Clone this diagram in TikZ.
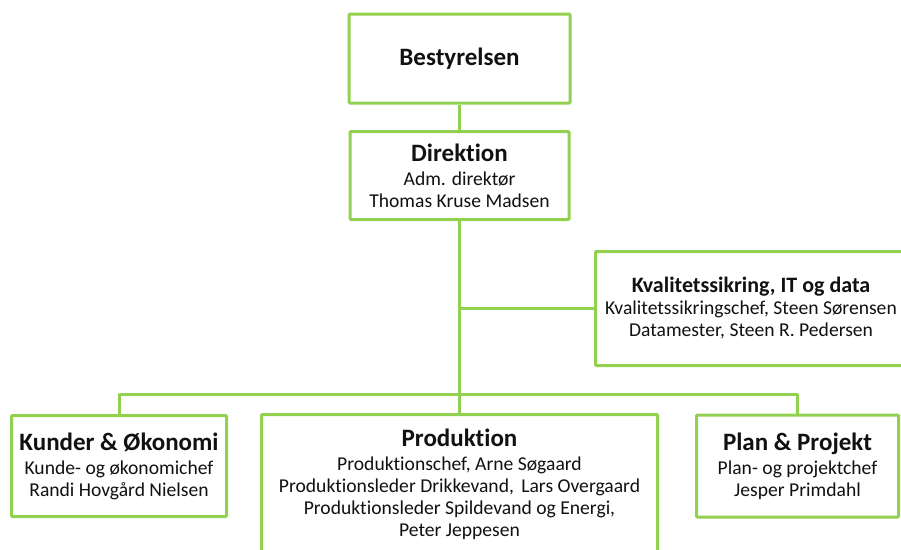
\documentclass[tikz,border=0pt]{standalone}
\usepackage{fontspec}
\setmainfont{Carlito}[Ligatures={NoCommon,NoContextual}]
\definecolor{orgline}{HTML}{92D050}
\definecolor{orgtext}{HTML}{111111}
\newcommand{\ttl}[1]{{\fontsize{25}{26}\selectfont\bfseries #1}}
\newcommand{\ttls}[1]{{\fontsize{22}{24}\selectfont\bfseries #1}}
\begin{document}
\begin{tikzpicture}[x=1pt,y=-1pt,
  box/.style={draw=orgline, line width=3pt, fill=white, rounded corners=1pt,
    align=center, inner sep=0pt, text=orgtext, font=\fontsize{19.6}{22}\selectfont},
  conn/.style={draw=orgline, line width=3pt, line join=round}]
\useasboundingbox (0,0) rectangle (901,549);
\coordinate (bus) at (459.5,394);
\node[box, minimum width=221pt, minimum height=89pt] (best) at (459.5,58.5) {\ttl{Bestyrelsen}};
\node[box, minimum width=219pt, minimum height=88pt] (dir) at (459.5,175.5) {\ttl{Direktion}\\[2pt]Adm. direktør\\Thomas Kruse Madsen};
\node[box, minimum width=311pt, minimum height=114pt] (kval) at (751,308.5) {\ttls{Kvalitetssikring, IT og data}\\Kvalitetssikringschef, Steen Sørensen\\Datamester, Steen R. Pedersen};
\node[box, minimum width=215pt, minimum height=101pt] (kund) at (119,466) {\ttl{Kunder \& Økonomi}\\[2pt]Kunde- og økonomichef\\Randi Hovgård Nielsen};
\node[box, minimum width=396pt, minimum height=140.5pt] (prod) at (459.5,484.75) {\ttl{Produktion}\\[2pt]Produktionschef, Arne Søgaard\\Produktionsleder Drikkevand,\hspace{3pt} Lars Overgaard\\Produktionsleder Spildevand og Energi,\\Peter Jeppesen};
\node[box, minimum width=202pt, minimum height=102pt] (plan) at (797.5,466) {\ttl{Plan \& Projekt}\\[2pt]Plan- og projektchef\\Jesper Primdahl};
\draw[conn] (best) -- (dir);
\draw[conn] (dir) -- (prod);
\draw[conn] (kval.west -| dir.south) -- (kval.west);
\draw[conn] (kund.north) -- (kund.north |- bus) -- (plan.north |- bus) -- (plan.north);
\end{tikzpicture}
\end{document}
